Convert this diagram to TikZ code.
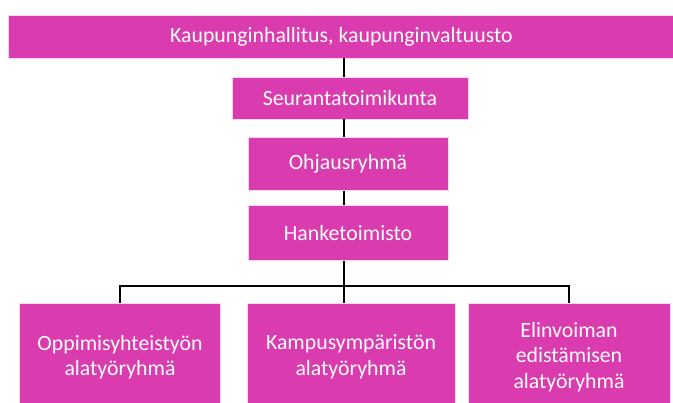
\documentclass[tikz,border=0pt]{standalone}
\usepackage{fontspec}
\setmainfont{Carlito}
\usepackage{tikz}
\usetikzlibrary{positioning}
\definecolor{boxpink}{RGB}{218,59,174}

\begin{document}
\begin{tikzpicture}[x=1pt,y=-1pt,
  orgbox/.style={fill=boxpink,draw=white!80!boxpink,line width=.6pt,text=white,
    align=center,inner sep=0pt,font=\fontsize{21.8}{25.5}\selectfont},
  link/.style={line width=1.8pt,black}]
\useasboundingbox (0,0) rectangle (673,403);
\node[orgbox,minimum width=667,minimum height=43] (hallitus) at (341.5,36.5) {Kaupunginhallitus, kaupunginvaltuusto};
\node[orgbox,minimum width=236,minimum height=42] (seuranta) at (350,98) {Seurantatoimikunta};
\node[orgbox,minimum width=200,minimum height=53] (ohjaus) at (348,164) {Ohjausryhmä};
\node[orgbox,minimum width=200,minimum height=55] (hanke) at (348,233) {Hanketoimisto};
\node[orgbox,minimum width=201,minimum height=108] (oppi) at (120,357) {Oppimisyhteistyön\\alatyöryhmä};
\node[orgbox,minimum width=208,minimum height=108] (kampus) at (351,357) {Kampusympäristön\\alatyöryhmä};
\node[orgbox,minimum width=202,minimum height=108] (elin) at (569,357) {Elinvoiman\\edistämisen\\alatyöryhmä};
\coordinate (bus) at (344,286);
% vertical chain
\draw[link] (hallitus.south -| bus) -- (seuranta.north -| bus);
\draw[link] (seuranta.south -| bus) -- (ohjaus.north -| bus);
\draw[link] (ohjaus.south -| bus) -- (hanke.north -| bus);
\draw[link] (hanke.south -| bus) -- (bus);
% branches
\draw[link] (oppi.north) |- (bus) -| (elin.north);
\draw[link] (bus) -- (kampus.north -| bus);
\end{tikzpicture}
\end{document}
